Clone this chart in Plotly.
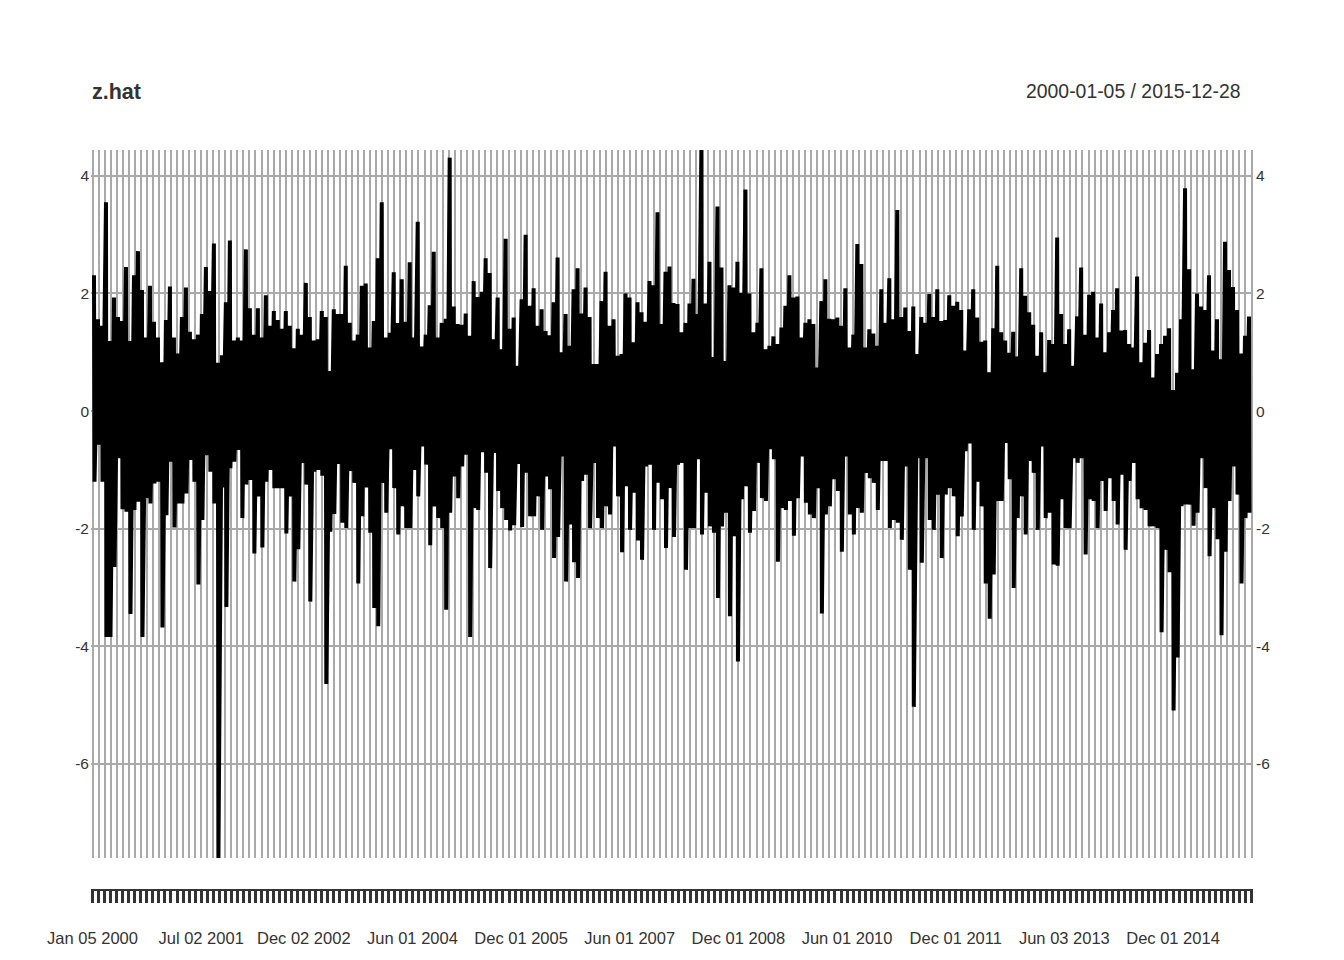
import numpy as np
import plotly.graph_objects as go

# upper and lower swings of z.hat
z_high = [
 2.31,1.56,1.45,3.55,1.19,1.93,1.6,1.53,2.45,1.19,
 2.31,2.72,2.06,1.25,2.13,1.52,1.25,0.83,1.55,2.12,
 1.25,0.98,1.6,2.1,1.35,1.22,1.3,1.65,2.45,2.04,
 2.85,0.82,0.95,1.85,2.9,1.2,1.25,1.2,2.75,1.75,
 1.3,1.75,1.25,1.97,1.45,1.7,1.55,1.4,1.7,1.45,
 1.07,1.4,1.3,2.18,1.6,1.2,1.22,1.7,1.6,0.68,
 1.73,1.65,1.65,2.47,1.5,1.2,1.3,2.13,2.17,1.08,
 1.53,2.6,3.55,1.25,1.33,2.36,1.5,2.24,1.52,2.53,
 1.25,3.22,1.1,1.3,1.8,2.71,1.25,1.5,1.57,4.31,
 1.78,1.48,1.47,1.66,1.28,2.21,1.94,2.03,2.6,2.35,
 1.22,1.93,1.05,2.93,1.4,1.59,0.77,1.9,3.0,1.79,
 2.09,1.45,1.73,1.36,1.29,1.85,2.61,1.0,1.65,1.11,
 2.07,2.43,1.66,2.1,1.6,0.8,0.8,1.87,2.37,1.45,
 1.56,0.94,0.97,2.0,1.93,1.17,1.85,1.68,1.52,2.21,
 2.14,3.38,1.48,2.37,2.46,1.84,1.82,1.34,1.5,1.83,
 2.25,1.65,4.6,1.83,2.54,0.92,3.48,2.44,0.85,2.14,
 2.1,2.54,2.01,3.77,2.0,1.34,1.5,2.43,1.05,1.11,
 1.27,1.14,1.42,1.79,2.31,1.93,1.95,1.25,1.5,1.56,
 1.48,0.74,1.87,2.24,1.57,1.56,1.59,1.45,2.09,1.08,
 1.3,2.84,2.5,1.08,1.39,1.32,1.11,2.07,1.5,2.26,
 1.56,3.42,1.6,1.76,1.36,1.78,0.97,1.6,1.5,1.99,
 1.6,2.07,1.53,1.55,1.97,1.79,1.86,1.72,1.03,1.73,
 2.07,1.59,1.18,1.2,0.66,1.41,2.47,1.34,1.2,0.99,
 1.35,0.93,2.43,1.96,1.68,1.47,0.94,1.34,0.66,1.21,
 1.14,2.95,1.65,1.14,1.39,0.77,1.61,2.44,1.3,1.98,
 2.03,1.25,1.83,1.0,1.34,1.72,2.09,1.37,1.38,1.14,
 1.08,2.29,0.83,1.16,1.38,0.57,0.97,1.14,1.28,1.41,
 0.36,0.65,1.56,3.79,2.41,0.71,2.0,1.78,1.72,2.31,
 1.03,1.56,0.88,2.88,2.4,2.11,1.72,0.98,1.28,1.61,
]
z_low = [
 -1.2,-0.57,-1.2,-3.84,-3.84,-2.65,-0.8,-1.67,-1.71,-3.45,
 -1.68,-1.54,-3.84,-1.48,-1.57,-1.23,-1.2,-3.68,-1.77,-0.86,
 -1.98,-1.57,-1.57,-1.4,-0.83,-1.2,-2.95,-1.85,-0.75,-1.03,
 -1.57,-7.7,-1.3,-3.33,-0.97,-0.86,-0.66,-1.82,-1.25,-1.17,
 -2.42,-1.45,-2.32,-1.2,-1.0,-1.31,-1.31,-1.31,-2.08,-1.45,
 -2.9,-2.35,-0.88,-1.25,-3.24,-1.03,-1.0,-1.1,-4.64,-2.05,
 -1.75,-0.9,-1.9,-1.99,-1.02,-1.22,-2.93,-1.79,-1.3,-2.07,
 -3.35,-3.66,-1.22,-1.73,-0.65,-1.31,-2.1,-1.62,-1.99,-1.99,
 -1.0,-1.45,-0.6,-0.91,-2.28,-1.62,-1.82,-1.99,-3.38,-1.73,
 -1.11,-1.48,-0.94,-0.74,-3.84,-1.65,-1.68,-0.7,-1.05,-2.67,
 -0.71,-1.36,-1.65,-1.85,-2.03,-1.94,-0.9,-1.97,-1.05,-1.79,
 -1.79,-1.45,-2.02,-1.11,-1.33,-2.5,-2.14,-0.77,-2.9,-1.93,
 -2.57,-2.84,-1.19,-1.08,-1.99,-0.88,-1.82,-1.99,-1.62,-1.76,
 -0.6,-1.45,-2.4,-1.28,-2.02,-1.39,-2.2,-2.53,-0.94,-0.91,
 -2.02,-1.22,-1.5,-2.33,-1.31,-2.14,-0.91,-0.88,-2.7,-1.99,
 -1.99,-0.82,-2.1,-1.39,-1.96,-2.07,-3.18,-1.96,-1.73,-3.49,
 -2.13,-4.26,-1.5,-1.28,-2.07,-1.7,-0.88,-1.48,-1.53,-0.65,
 -0.82,-2.56,-1.65,-1.68,-1.53,-2.12,-1.48,-0.77,-1.56,-1.76,
 -1.82,-1.31,-3.44,-1.76,-1.62,-1.16,-1.36,-2.39,-0.77,-1.76,
 -2.1,-1.65,-1.73,-1.05,-1.14,-1.22,-1.68,-0.85,-0.85,-1.99,
 -1.85,-1.9,-2.19,-0.94,-2.7,-5.03,-0.8,-2.58,-0.8,-1.85,
 -2.02,-1.42,-2.5,-1.42,-1.31,-1.45,-2.13,-1.79,-0.68,-0.55,
 -2.02,-1.2,-1.62,-2.93,-3.53,-2.78,-1.53,-1.53,-0.54,-1.16,
 -3.01,-1.82,-1.45,-2.1,-0.85,-1.05,-2.02,-0.6,-1.82,-1.73,
 -2.61,-2.63,-1.5,-1.99,-1.99,-0.8,-0.88,-0.8,-2.44,-1.5,
 -1.53,-1.99,-1.19,-1.7,-1.14,-1.53,-1.93,-1.08,-2.36,-1.19,
 -0.88,-1.5,-1.65,-1.68,-1.96,-1.96,-1.99,-3.76,-2.36,-2.74,
 -5.09,-4.19,-1.62,-1.59,-1.59,-1.95,-1.73,-0.8,-1.31,-2.47,
 -1.65,-2.18,-3.81,-2.39,-1.53,-0.94,-1.42,-2.93,-1.82,-1.73,
]

month_count = 192  # monthly ticks plus the closing one
tick_positions = list(range(month_count + 1))
label_positions = [0, 18, 35, 53, 71, 89, 107, 125, 143, 161, 179]
label_texts = ["Jan 05 2000", "Jul 02 2001", "Dec 02 2002", "Jun 01 2004",
               "Dec 01 2005", "Jun 01 2007", "Dec 01 2008", "Jun 01 2010",
               "Dec 01 2011", "Jun 03 2013", "Dec 01 2014"]
y_ticks = [-6, -4, -2, 0, 2, 4]
y_tick_text = ["-6", "-4", "-2", "0", "2", "4"]
y_range = [-7.6, 4.44]

# each swing pair shares one slot along the axis, high just ahead of low
series = [v for pair in zip(z_high, z_low) for v in pair]
slot_width = month_count / len(z_high)
x_pos = [(i + offset) * slot_width for i in range(len(z_high)) for offset in (0.375, 0.5)]
tick_text = [label_texts[label_positions.index(k)] if k in label_positions else ""
             for k in tick_positions]

GRID = "#A9A9A9"
INK = "#333333"
FONT = "Liberation Sans"

fig = go.Figure()
fig.add_trace(go.Scatter(x=x_pos, y=series, mode="lines", xaxis="x", yaxis="y",
                         line=dict(color="black", width=4, simplify=False),
                         hoverinfo="skip", showlegend=False))
fig.add_trace(go.Scatter(x=[0, month_count], y=[0, 0], mode="lines", xaxis="x2", yaxis="y",
                         opacity=0, hoverinfo="skip", showlegend=False))
fig.add_trace(go.Scatter(x=[0, month_count], y=[0, 0], mode="lines", xaxis="x", yaxis="y2",
                         opacity=0, hoverinfo="skip", showlegend=False))

W, H = 1344, 960
PAD_PX = 1.5
L, R, T, B = 92 - PAD_PX, 92 - PAD_PX, 150, 40
plot_w = W - L - R
plot_h = H - B - T
BOTTOM_PX = H - B
bottom_frac = (BOTTOM_PX - 858) / plot_h
axis_frac = (BOTTOM_PX - 890) / plot_h
pad_months = PAD_PX * month_count / (plot_w - 2 * PAD_PX)
x_range = [-pad_months, month_count + pad_months]

fig.update_layout(
    width=W, height=H, margin=dict(l=L, r=R, t=T, b=B),
    paper_bgcolor="white", plot_bgcolor="white", showlegend=False,
    font=dict(family=FONT, color=INK),
    xaxis=dict(domain=[0, 1], range=x_range, anchor="y",
               tickmode="array", tickvals=tick_positions, showticklabels=False,
               showgrid=True, gridcolor=GRID, gridwidth=2, ticks="", zeroline=False, showline=False),
    xaxis2=dict(overlaying="x", anchor="free", position=axis_frac, range=x_range,
                tickmode="array", tickvals=tick_positions, ticktext=tick_text,
                ticks="outside", ticklen=12, tickwidth=3, tickcolor=INK,
                showline=True, linecolor=INK, linewidth=2, showgrid=False, zeroline=False,
                tickangle=0, ticklabelstandoff=21, tickfont=dict(size=16.5, color=INK, family=FONT)),
    yaxis=dict(domain=[bottom_frac, 1], range=y_range, anchor="x",
               tickmode="array", tickvals=y_ticks, ticktext=y_tick_text, ticks="",
               showgrid=True, gridcolor=GRID, gridwidth=2, zeroline=False, showline=False,
               ticklabelstandoff=1, tickfont=dict(size=15.5, color=INK, family=FONT)),
    yaxis2=dict(overlaying="y", side="right", anchor="x", range=y_range,
                domain=[bottom_frac, 1],
                tickmode="array", tickvals=y_ticks, ticktext=y_tick_text, ticks="",
                showgrid=False, zeroline=False, showline=False, ticklabelstandoff=2,
                tickfont=dict(size=15.5, color=INK, family=FONT)),
    annotations=[
        dict(text="<b>z.hat</b>", xref="paper", yref="paper",
             x=(89.5 - L) / plot_w, y=(BOTTOM_PX - 92) / plot_h,
             xanchor="left", yanchor="middle", showarrow=False,
             font=dict(size=21.5, color=INK, family=FONT)),
        dict(text="2000-01-05 / 2015-12-28", xref="paper", yref="paper",
             x=(1243 - L) / plot_w, y=(BOTTOM_PX - 91) / plot_h,
             xanchor="right", yanchor="middle", showarrow=False,
             font=dict(size=19.4, color=INK, family=FONT)),
    ],
)

fig.write_html("out.html", config=dict(displayModeBar=False),
               post_script="document.body.style.margin='0';")
